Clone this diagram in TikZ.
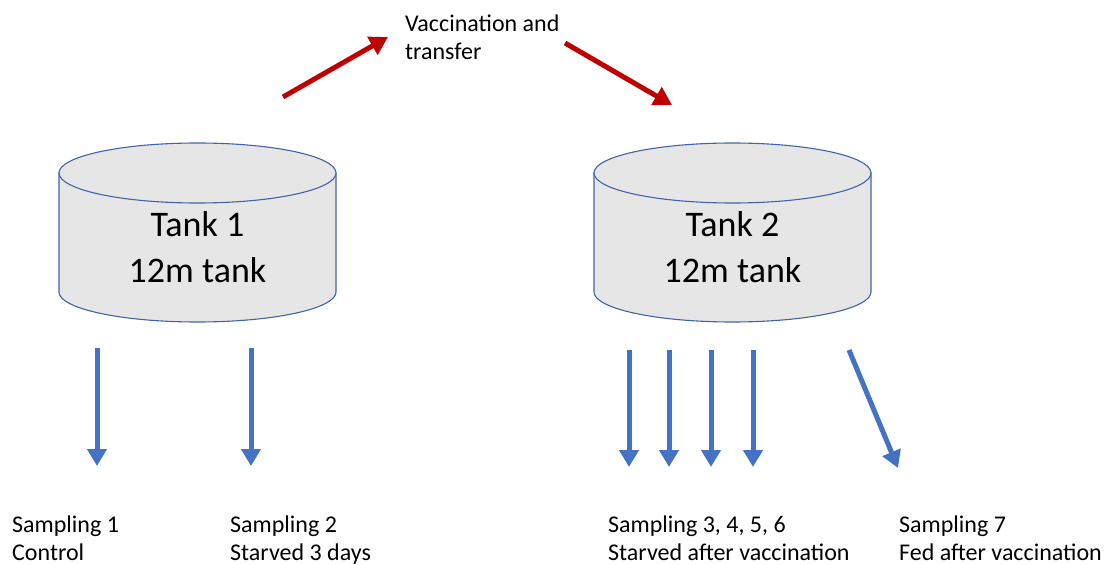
\documentclass[tikz,border=0pt]{standalone}
\usepackage{fontspec}
\setmainfont{Carlito}
\usetikzlibrary{arrows.meta}
\definecolor{flowblue}{HTML}{4472C4}
\definecolor{flowred}{HTML}{C00000}
\definecolor{tankgray}{HTML}{E7E6E6}
\definecolor{tankedge}{HTML}{3F64A8}
\tikzset{
  tankbody/.style={fill=tankgray, draw=tankedge, line width=1.1pt},
  tanklabel/.style={font=\fontsize{36}{45}\selectfont, align=center, inner sep=0pt, anchor=base},
  note/.style={font=\fontsize{24}{28}\selectfont, align=left, inner sep=0pt, anchor=base west},
  sample/.style={draw=flowblue, line width=5pt, -{Triangle[width=19pt,length=17pt]}},
  transfer/.style={draw=flowred, line width=5pt, -{Triangle[width=20pt,length=18pt]}},
  tank/.pic={
    \path[tankbody] (-138.5,0) -- (-138.5,119)
      arc[start angle=180, end angle=0, x radius=138.5, y radius=30]
      -- (138.5,0) -- cycle;
    \draw[tankbody] (0,0) ellipse[x radius=138.5, y radius=30];
  }
}
\begin{document}
\begin{tikzpicture}[x=1pt, y=-1pt]
  \useasboundingbox (0,0) rectangle (1106,564);

  % the two tanks (labels anchored on the baseline of their last line)
  \pic (tankA) at (197.5,173) {tank};
  \pic (tankB) at (732.5,173) {tank};
  \node[tanklabel] (labelA) at (197.5,282) {Tank 1\\12m tank};
  \node[tanklabel] (labelB) at (732.5,282) {Tank 2\\12m tank};

  % transfer between the tanks
  \node[note] (transfer) at (405,60) {Vaccination and\\transfer};
  \coordinate (redA0) at (283,97);
  \coordinate (redA1) at (388,37);
  \coordinate (redB0) at (565,43);
  \coordinate (redB1) at (672,105);
  \draw[transfer] (redA0) -- (redA1);
  \draw[transfer] (redB0) -- (redB1);

  % sampling arrows
  \coordinate (s1a) at (97,348);  \coordinate (s1b) at (97,466);
  \coordinate (s2a) at (251,348); \coordinate (s2b) at (251,466);
  \coordinate (s3a) at (629,350); \coordinate (s3b) at (629,467);
  \coordinate (s4a) at (669,350); \coordinate (s4b) at (669,467);
  \coordinate (s5a) at (711,350); \coordinate (s5b) at (711,467);
  \coordinate (s6a) at (753,350); \coordinate (s6b) at (753,467);
  \coordinate (s7a) at (849,350); \coordinate (s7b) at (898,468);
  \foreach \s in {1,...,7} { \draw[sample] (s\s a) -- (s\s b); }

  % sampling notes
  \node[note] (note1) at (12,560)  {Sampling 1\\Control};
  \node[note] (note2) at (230,560) {Sampling 2\\Starved 3 days};
  \node[note] (note3) at (608,560) {Sampling 3, 4, 5, 6\\Starved after vaccination};
  \node[note] (note7) at (899,560) {Sampling 7\\Fed after vaccination};
\end{tikzpicture}
\end{document}
